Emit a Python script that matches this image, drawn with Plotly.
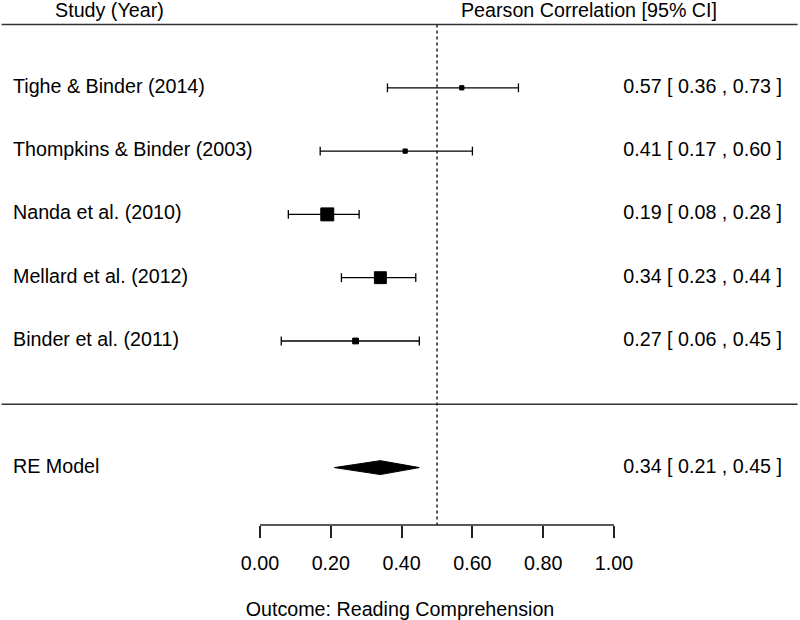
import plotly.graph_objects as go

studies = ["Tighe & Binder (2014)", "Thompkins & Binder (2003)", "Nanda et al. (2010)",
           "Mellard et al. (2012)", "Binder et al. (2011)"]
est = [0.57, 0.41, 0.19, 0.34, 0.27]
ci_lb = [0.36, 0.17, 0.08, 0.23, 0.06]
ci_ub = [0.73, 0.60, 0.28, 0.44, 0.45]
weights = [6, 6, 42, 36, 10]  # approx. % weight

re_label = "RE Model"
re_est = 0.34
re_lb = 0.21
re_ub = 0.45

tick_vals = [0.0, 0.2, 0.4, 0.6, 0.8, 1.0]
ref_line = 0.5

k = len(studies)
rows = list(range(k, 0, -1))
re_row = -1
FONT = "Liberation Sans, Arial, sans-serif"
FS = 19.7

x_lo, x_hi = -0.7345, 1.5254
y_lo, y_hi = -1.907, 6.387

fig = go.Figure()

# confidence intervals with end caps
for r, lb, ub in zip(rows, ci_lb, ci_ub):
    fig.add_trace(go.Scatter(x=[lb, ub], y=[r, r], mode="lines",
                             line=dict(color="black", width=1.3), hoverinfo="skip"))
    for xv in (lb, ub):
        fig.add_trace(go.Scatter(x=[xv, xv], y=[r - 0.07, r + 0.07], mode="lines",
                                 line=dict(color="black", width=1.3), hoverinfo="skip"))

# point estimates, box size by weight
fig.add_trace(go.Scatter(x=est, y=rows, mode="markers",
                         marker=dict(symbol="square", color="black", opacity=1,
                                     size=[2.15 * w ** 0.5 - 1 for w in weights],
                                     line=dict(width=1, color="black"))))

# summary diamond
fig.add_trace(go.Scatter(x=[re_lb, re_est, re_ub, re_est, re_lb],
                         y=[re_row, re_row + 0.11, re_row, re_row - 0.11, re_row],
                         mode="lines", fill="toself", fillcolor="black",
                         line=dict(color="black", width=1)))

# left labels
fig.add_trace(go.Scatter(x=[x_lo + 13 / 354] * (k + 1), y=rows + [re_row],
                         text=studies + [re_label], mode="text", textposition="middle right",
                         textfont=dict(family=FONT, size=FS, color="black"), cliponaxis=False))

# right labels
ci_text = [f"{e:.2f} [ {l:.2f} , {u:.2f} ]" for e, l, u in
           zip(est + [re_est], ci_lb + [re_lb], ci_ub + [re_ub])]
fig.add_trace(go.Scatter(x=[1.4746] * (k + 1), y=rows + [re_row], text=ci_text,
                         mode="text", textposition="middle left",
                         textfont=dict(family=FONT, size=FS, color="black"), cliponaxis=False))

# headers
fig.add_trace(go.Scatter(x=[-0.579], y=[6.19], text=["Study (Year)"], mode="text",
                         textposition="middle right",
                         textfont=dict(family=FONT, size=FS, color="black"), cliponaxis=False))
fig.add_trace(go.Scatter(x=[1.291], y=[6.19], text=["Pearson Correlation [95% CI]"], mode="text",
                         textposition="middle left",
                         textfont=dict(family=FONT, size=FS, color="black"), cliponaxis=False))

# horizontal rules
for yv in (k + 1, 0):
    fig.add_shape(type="line", xref="paper", x0=0.002, x1=0.997, yref="y", y0=yv, y1=yv,
                  line=dict(color="#333", width=1.5))
# reference line
fig.add_shape(type="line", xref="x", x0=ref_line, x1=ref_line, yref="y", y0=k + 1, y1=y_lo,
              line=dict(color="#222", width=1.5, dash="dot"))
# axis line
fig.add_shape(type="line", xref="x", x0=tick_vals[0], x1=tick_vals[-1], yref="paper", y0=0, y1=0,
              line=dict(color="#222", width=1.5))

fig.update_layout(
    width=800, height=620, showlegend=False,
    margin=dict(l=0, r=0, t=0, b=95),
    paper_bgcolor="white", plot_bgcolor="white",
    font=dict(family=FONT, size=FS, color="black"),
    xaxis=dict(range=[x_lo, x_hi], showgrid=False, zeroline=False, showline=False,
               tickvals=tick_vals, tickformat=".2f", ticks="outside", ticklen=12,
               tickwidth=1.5, tickcolor="#222", ticklabelstandoff=8,
               tickfont=dict(family=FONT, size=FS, color="black"),
               title=dict(text="Outcome: Reading Comprehension", standoff=29,
                          font=dict(family=FONT, size=FS, color="black"))),
    yaxis=dict(range=[y_lo, y_hi], visible=False, showgrid=False, zeroline=False),
)

fig.write_html("out.html", config={"displayModeBar": False},
               post_script="document.body.style.margin='0';")
